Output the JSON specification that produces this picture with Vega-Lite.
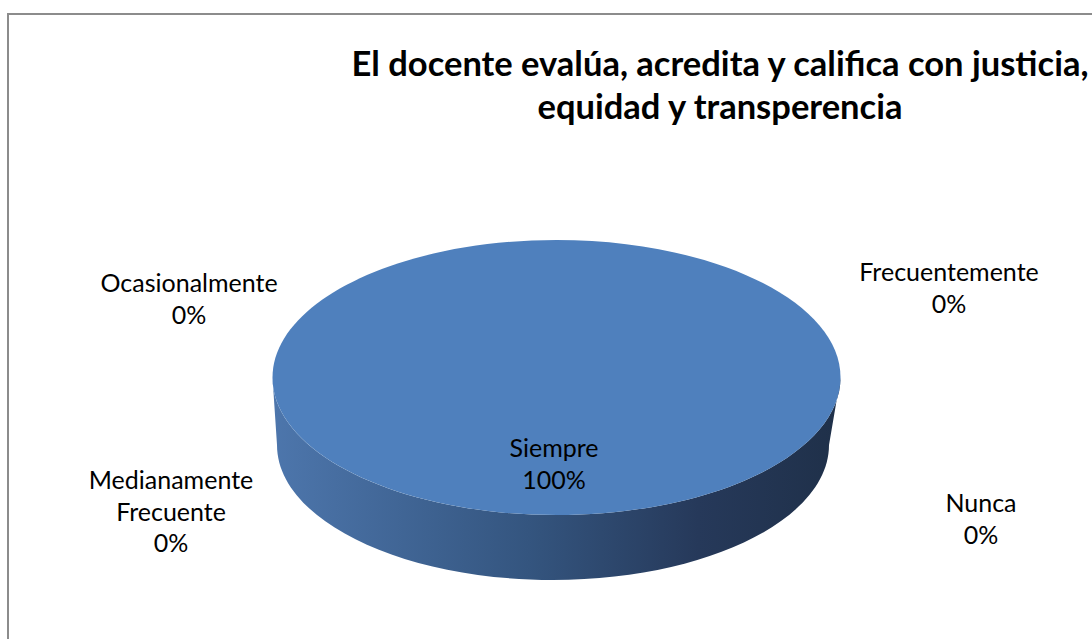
{
  "$schema": "https://vega.github.io/schema/vega-lite/v6.json",
  "width": 1084,
  "height": 625,
  "autosize": {"type": "none"},
  "padding": {"left": 8, "top": 14, "right": 0, "bottom": 0},
  "background": "white",
  "config": {
    "view": {"stroke": "#8c8c8c", "strokeWidth": 2, "strokeDash": [1084, 1709, 625, 1]},
    "font": "Lato"
  },
  "title": {
    "text": ["El docente evalúa, acredita y califica con justicia,", "equidad y transperencia"],
    "font": "Lato",
    "fontSize": 34.5,
    "fontWeight": "bold",
    "color": "#000000",
    "anchor": "middle",
    "frame": "group",
    "dx": 170,
    "lineHeight": 43,
    "offset": -112
  },
  "data": {
    "values": [
      {"categoria": "Siempre", "valor": 100},
      {"categoria": "Frecuentemente", "valor": 0},
      {"categoria": "Medianamente Frecuente", "valor": 0},
      {"categoria": "Ocasionalmente", "valor": 0},
      {"categoria": "Nunca", "valor": 0}
    ]
  },
  "transform": [
    {"joinaggregate": [{"op": "sum", "field": "valor", "as": "total"}]},
    {"calculate": "replace(datum.categoria, ' ', '\\n') + '\\n' + format(datum.valor / datum.total, '.0%')", "as": "etiqueta"}
  ],
  "layer": [
    {
      "transform": [{"filter": "datum.valor > 0"}],
      "mark": {
        "type": "point",
        "shape": "M -284 0 L -279.5 67.5 A 276 135 0 0 0 272.5 67.5 L 284 0 A 284 137.5 0 0 1 -284 0 Z",
        "size": 4,
        "filled": true,
        "opacity": 1,
        "strokeWidth": 0,
        "fill": {
          "gradient": "linear", "x1": 0, "y1": 0, "x2": 1, "y2": 0,
          "stops": [
            {"offset": 0, "color": "#4d76ac"},
            {"offset": 0.45, "color": "#34557f"},
            {"offset": 0.75, "color": "#26395a"},
            {"offset": 1, "color": "#1f3049"}
          ]
        }
      },
      "encoding": {
        "x": {"datum": 50.6, "type": "quantitative", "scale": {"domain": [0, 100], "nice": false}, "axis": null},
        "y": {"datum": 58.16, "type": "quantitative", "scale": {"domain": [0, 100], "nice": false, "reverse": true}, "axis": null}
      }
    },
    {
      "transform": [{"filter": "datum.valor > 0"}],
      "mark": {
        "type": "point",
        "shape": "M -284 0 A 284 137.5 0 0 1 284 0 A 284 137.5 0 0 1 -284 0 Z",
        "size": 4,
        "filled": true,
        "opacity": 1,
        "strokeWidth": 0,
        "fill": "#4f80bd"
      },
      "encoding": {
        "x": {"datum": 50.6, "type": "quantitative", "scale": {"domain": [0, 100], "nice": false}, "axis": null},
        "y": {"datum": 58.16, "type": "quantitative", "scale": {"domain": [0, 100], "nice": false, "reverse": true}, "axis": null}
      }
    },
    {
      "transform": [{"filter": "datum.categoria === 'Siempre'"}],
      "mark": {"type": "text", "lineBreak": "\n", "lineHeight": 31.5, "fontSize": 25, "align": "center", "baseline": "alphabetic", "color": "#000000"},
      "encoding": {
        "x": {"datum": 50.37, "type": "quantitative", "scale": {"domain": [0, 100], "nice": false}, "axis": null},
        "y": {"datum": 70.88, "type": "quantitative", "scale": {"domain": [0, 100], "nice": false, "reverse": true}, "axis": null},
        "text": {"field": "etiqueta"}
      }
    },
    {
      "transform": [{"filter": "datum.categoria === 'Frecuentemente'"}],
      "mark": {"type": "text", "lineBreak": "\n", "lineHeight": 31.5, "fontSize": 25, "align": "center", "baseline": "alphabetic", "color": "#000000"},
      "encoding": {
        "x": {"datum": 86.81, "type": "quantitative", "scale": {"domain": [0, 100], "nice": false}, "axis": null},
        "y": {"datum": 42.72, "type": "quantitative", "scale": {"domain": [0, 100], "nice": false, "reverse": true}, "axis": null},
        "text": {"field": "etiqueta"}
      }
    },
    {
      "transform": [{"filter": "datum.categoria === 'Medianamente Frecuente'"}],
      "mark": {"type": "text", "lineBreak": "\n", "lineHeight": 31.5, "fontSize": 25, "align": "center", "baseline": "alphabetic", "color": "#000000"},
      "encoding": {
        "x": {"datum": 15.04, "type": "quantitative", "scale": {"domain": [0, 100], "nice": false}, "axis": null},
        "y": {"datum": 76.0, "type": "quantitative", "scale": {"domain": [0, 100], "nice": false, "reverse": true}, "axis": null},
        "text": {"field": "etiqueta"}
      }
    },
    {
      "transform": [{"filter": "datum.categoria === 'Ocasionalmente'"}],
      "mark": {"type": "text", "lineBreak": "\n", "lineHeight": 31.5, "fontSize": 25, "align": "center", "baseline": "alphabetic", "color": "#000000"},
      "encoding": {
        "x": {"datum": 16.7, "type": "quantitative", "scale": {"domain": [0, 100], "nice": false}, "axis": null},
        "y": {"datum": 44.48, "type": "quantitative", "scale": {"domain": [0, 100], "nice": false, "reverse": true}, "axis": null},
        "text": {"field": "etiqueta"}
      }
    },
    {
      "transform": [{"filter": "datum.categoria === 'Nunca'"}],
      "mark": {"type": "text", "lineBreak": "\n", "lineHeight": 31.5, "fontSize": 25, "align": "center", "baseline": "alphabetic", "color": "#000000"},
      "encoding": {
        "x": {"datum": 89.76, "type": "quantitative", "scale": {"domain": [0, 100], "nice": false}, "axis": null},
        "y": {"datum": 79.68, "type": "quantitative", "scale": {"domain": [0, 100], "nice": false, "reverse": true}, "axis": null},
        "text": {"field": "etiqueta"}
      }
    }
  ]
}
